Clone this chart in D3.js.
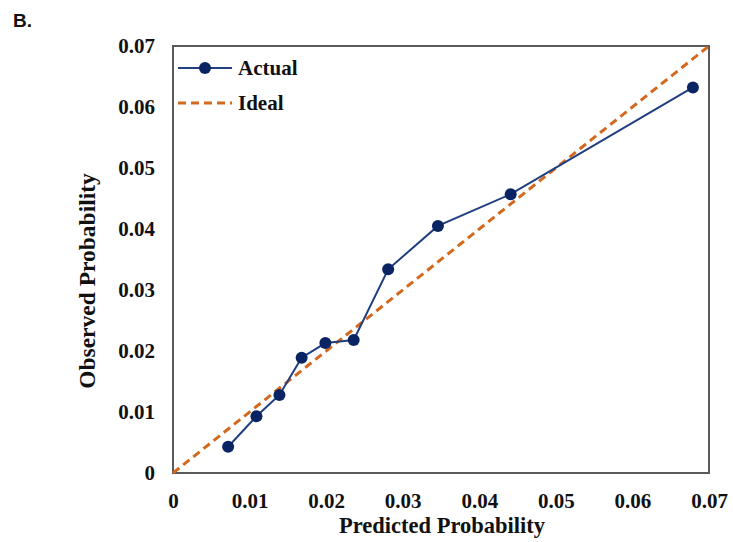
<!DOCTYPE html>
<html>
<head>
<meta charset="utf-8">
<script src="https://cdn.jsdelivr.net/npm/d3@7"></script>
<style>
  html, body { margin: 0; padding: 0; background: #fff; }
  svg { display: block; }
</style>
</head>
<body>
<svg id="chart" width="733" height="542"></svg>
<script>
// Calibration data: predicted vs observed probability
const predicted = [0.0072, 0.0109, 0.0139, 0.0168, 0.0199, 0.0236, 0.0281, 0.0346, 0.0441, 0.0679];
const observed  = [0.0043, 0.0093, 0.0128, 0.0189, 0.0213, 0.0218, 0.0334, 0.0405, 0.0457, 0.0632];
const idealLine = [0, 0.07];
const xTicks = [0, 0.01, 0.02, 0.03, 0.04, 0.05, 0.06, 0.07];
const yTicks = [0, 0.01, 0.02, 0.03, 0.04, 0.05, 0.06, 0.07];
const seriesNames = ["Actual", "Ideal"];

const svg = d3.select("#chart");
const plot = { left: 173, right: 709, top: 46, bottom: 473 };
const fmt = d => d === 0 ? "0" : d3.format(".2f")(d);
const serif = "'Liberation Serif', 'Times New Roman', serif";

const x = d3.scaleLinear().domain([0, 0.07]).range([plot.left, plot.right]);
const y = d3.scaleLinear().domain([0, 0.07]).range([plot.bottom, plot.top]);

// Panel tag
svg.append("text")
  .attr("x", 13).attr("y", 27)
  .attr("font-family", "'Liberation Sans', Arial, sans-serif")
  .attr("font-weight", "bold").attr("font-size", 19)
  .attr("fill", "#111")
  .text("B.");

// Axes (labels only, no tick marks)
const xAxis = svg.append("g")
  .attr("transform", `translate(0,${plot.bottom})`)
  .call(d3.axisBottom(x).tickValues(xTicks).tickFormat(fmt).tickSize(0).tickPadding(20));
const yAxis = svg.append("g")
  .attr("transform", `translate(${plot.left},0)`)
  .call(d3.axisLeft(y).tickValues(yTicks).tickFormat(fmt).tickSize(0).tickPadding(18));
[xAxis, yAxis].forEach(g => {
  g.select(".domain").remove();
  g.selectAll("text")
    .attr("font-family", serif).attr("font-weight", "bold")
    .attr("font-size", 21).attr("fill", "#111");
});

// Plot frame
svg.append("rect")
  .attr("x", plot.left).attr("y", plot.top)
  .attr("width", plot.right - plot.left).attr("height", plot.bottom - plot.top)
  .attr("fill", "none").attr("stroke", "#595959").attr("stroke-width", 2);

// Ideal diagonal
const lineGen = d3.line().x(d => x(d[0])).y(d => y(d[1]));
svg.append("path")
  .datum(idealLine.map(v => [v, v]))
  .attr("d", lineGen)
  .attr("fill", "none").attr("stroke", "#D2691E")
  .attr("stroke-width", 3).attr("stroke-dasharray", "8,5");

// Actual series
const pts = predicted.map((p, i) => [p, observed[i]]);
svg.append("path")
  .datum(pts)
  .attr("d", lineGen)
  .attr("fill", "none").attr("stroke", "#203F80").attr("stroke-width", 2);
svg.append("g").selectAll("circle")
  .data(pts).join("circle")
  .attr("cx", d => x(d[0])).attr("cy", d => y(d[1]))
  .attr("r", 6).attr("fill", "#0A2463");

// Legend
const legend = svg.append("g");
legend.append("line")
  .attr("x1", 178).attr("x2", 232).attr("y1", 68).attr("y2", 68)
  .attr("stroke", "#203F80").attr("stroke-width", 2);
legend.append("circle").attr("cx", 205).attr("cy", 68).attr("r", 6).attr("fill", "#0A2463");
legend.append("line")
  .attr("x1", 178).attr("x2", 232).attr("y1", 103).attr("y2", 103)
  .attr("stroke", "#D2691E").attr("stroke-width", 3).attr("stroke-dasharray", "8,5");
legend.selectAll("text.leg")
  .data(seriesNames).join("text")
  .attr("class", "leg")
  .attr("x", 238).attr("y", (d, i) => 75 + i * 35)
  .attr("font-family", serif).attr("font-weight", "bold")
  .attr("font-size", 21).attr("fill", "#111")
  .text(d => d);

// Axis titles
svg.append("text")
  .attr("x", 442).attr("y", 533)
  .attr("text-anchor", "middle")
  .attr("font-family", serif).attr("font-weight", "bold")
  .attr("font-size", 22.5).attr("fill", "#111")
  .text("Predicted Probability");
svg.append("text")
  .attr("transform", `translate(95,281) rotate(-90)`)
  .attr("text-anchor", "middle")
  .attr("font-family", serif).attr("font-weight", "bold")
  .attr("font-size", 23.5).attr("fill", "#111")
  .text("Observed Probability");
</script>
</body>
</html>
